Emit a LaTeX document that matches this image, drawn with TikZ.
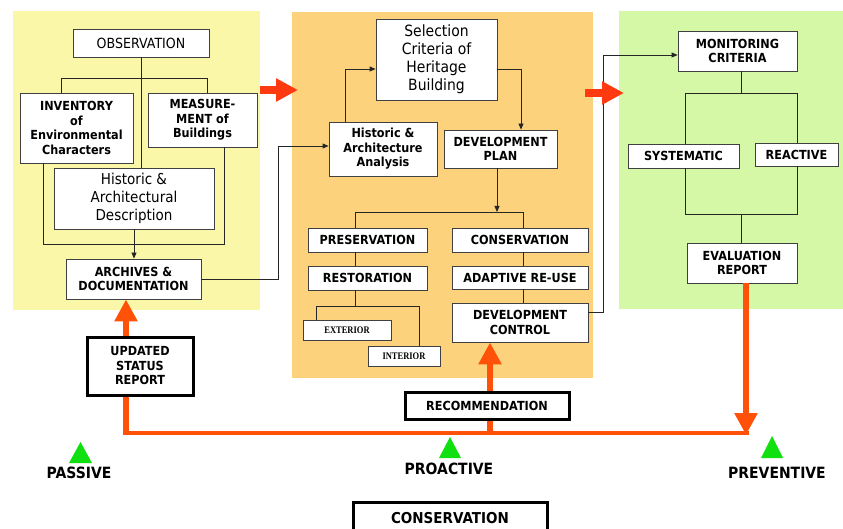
\documentclass[tikz,border=0pt]{standalone}
\usepackage{fontspec}
\setmainfont{DejaVu Sans}[FakeStretch=0.9]
\newfontfamily\serifsmall{Liberation Serif}[FakeStretch=0.85]
\usetikzlibrary{arrows.meta}
\definecolor{ycol}{HTML}{FAF8A8}
\definecolor{ocol}{HTML}{FCD27D}
\definecolor{gcol}{HTML}{D4F8A5}
\definecolor{boxline}{HTML}{404040}
\definecolor{redA}{HTML}{FF3A10}
\definecolor{redB}{HTML}{FF5208}
\definecolor{trig}{HTML}{10E010}
\newcommand\regf[2]{\fontsize{#1}{#2}\selectfont\mdseries}
\newcommand\bldf[2]{\fontsize{#1}{#2}\selectfont\bfseries}
\begin{document}
\begin{tikzpicture}[x=1pt,y=-1pt,
  panel/.style={draw=none,inner sep=0pt},
  box/.style={draw=boxline,fill=white,line width=0.8pt,inner sep=0pt,align=center,font=\bldf{12.5}{14.5}},
  heavybox/.style={draw=black,fill=white,line width=3pt,inner sep=0pt,align=center,font=\bldf{12.5}{14.5}},
  smallbox/.style={draw=boxline,fill=white,line width=0.8pt,inner sep=0pt,align=center,font={\serifsmall\fontsize{10}{12}\selectfont\bfseries}},
  conn/.style={draw=black!85,line width=0.8pt},
  arr/.style={conn,-{Triangle[length=6pt,width=5pt]}},
  bigred/.style={draw=redA,line width=8pt,-{Triangle[length=22pt,width=22pt]}},
  redshaft/.style={draw=redB,line width=6.5pt},
  redarr/.style={redshaft,-{Triangle[length=22pt,width=22pt]}},
  redhor/.style={draw=redB,line width=4pt},
  lab/.style={inner sep=0pt,font=\bldf{15.5}{18}},
  tri/.style={fill=trig}
]
\useasboundingbox (0,0) rectangle (843,529);
\fill[white] (0,0) rectangle (843,529);

% panels
\node[panel,fill=ycol,minimum width=247pt,minimum height=299pt] (ypanel) at (136.5,160.5) {};
\node[panel,fill=ocol,minimum width=301pt,minimum height=366pt] (opanel) at (442.5,195) {};
\node[panel,fill=gcol,minimum width=224pt,minimum height=298pt] (gpanel) at (731,160) {};

% yellow panel boxes
\node[box,font=\regf{14}{16},minimum width=136pt,minimum height=28pt] (obs) at (141,43) {OBSERVATION};
\node[box,minimum width=113pt,minimum height=70pt] (inv) at (76.5,128) {INVENTORY\\of\\Environmental\\Characters};
\node[box,minimum width=109pt,minimum height=54pt] (meas) at (202.5,120) {MEASURE-\\MENT of\\Buildings};
\node[box,font=\regf{15}{17.7},minimum width=160pt,minimum height=61pt] (hdesc) at (134,198.5) {Historic \&\\Architectural\\Description};
\node[box,minimum width=135pt,minimum height=40pt] (arch) at (133.5,279) {ARCHIVES \&\\DOCUMENTATION};

% orange panel boxes
\node[box,font=\regf{15.5}{18},minimum width=121pt,minimum height=81pt] (sel) at (436.5,59.5) {Selection\\Criteria of\\Heritage\\Building};
\node[box,minimum width=108pt,minimum height=54pt] (haa) at (383,149) {Historic \&\\Architecture\\Analysis};
\node[box,minimum width=113pt,minimum height=38pt] (dplan) at (500.5,149) {DEVELOPMENT\\PLAN};
\node[box,minimum width=119pt,minimum height=24pt] (pres) at (367.5,240) {PRESERVATION};
\node[box,minimum width=119pt,minimum height=24pt] (rest) at (367.5,278) {RESTORATION};
\node[smallbox,minimum width=88pt,minimum height=20pt] (ext) at (347,330) {EXTERIOR};
\node[smallbox,minimum width=72pt,minimum height=20pt] (int) at (404,356) {INTERIOR};
\node[box,minimum width=136pt,minimum height=24pt] (cons) at (520,240) {CONSERVATION};
\node[box,minimum width=136pt,minimum height=23pt] (adapt) at (520,277.5) {ADAPTIVE RE-USE};
\node[box,minimum width=136pt,minimum height=39pt] (dctrl) at (520,322.5) {DEVELOPMENT\\CONTROL};

% green panel boxes
\node[box,minimum width=119pt,minimum height=40pt] (mon) at (737.5,51) {MONITORING\\CRITERIA};
\node[box,minimum width=111pt,minimum height=24pt] (sys) at (683.5,156) {SYSTEMATIC};
\node[box,minimum width=83pt,minimum height=23pt] (react) at (796.5,154.5) {REACTIVE};
\node[box,minimum width=110pt,minimum height=40pt] (eval) at (742,263) {EVALUATION\\REPORT};

% bottom boxes
\node[heavybox,minimum width=106pt,minimum height=58pt] (upd) at (140,366) {UPDATED\\STATUS\\REPORT};
\node[heavybox,minimum width=164pt,minimum height=27pt] (rec) at (487,405.5) {RECOMMENDATION};
\node[heavybox,font=\bldf{15}{18},minimum width=194pt,minimum height=31pt] (consB) at (450,518) {CONSERVATION};

% labels
\node[lab] (pas) at (79,473) {PASSIVE};
\node[lab] (pro) at (449,469) {PROACTIVE};
\node[lab] (prev) at (777,473) {PREVENTIVE};

% triangles
\fill[tri] (69,463) -- (92,463) -- (80.5,442) -- cycle;
\fill[tri] (439,458) -- (461,458) -- (450,437) -- cycle;
\fill[tri] (761,458) -- (783,458) -- (772,436) -- cycle;

% coordinates
\coordinate (b1) at (61,78);
\coordinate (b2) at (207,78);
\coordinate (c1) at (43,244);
\coordinate (c2) at (224,244);
\coordinate (d1) at (278,146);
\coordinate (e1) at (345,69);
\coordinate (f1) at (521,69);
\coordinate (g0) at (497,212);
\coordinate (g1) at (355,212);
\coordinate (g2) at (523,212);
\coordinate (h0) at (355,306);
\coordinate (h1) at (316,306);
\coordinate (h2) at (419,306);
\coordinate (k1) at (603,312);
\coordinate (k2) at (603,55);
\coordinate (m0) at (741,93);
\coordinate (m1) at (685,93);
\coordinate (m2) at (797,93);
\coordinate (n0) at (741,214);
\coordinate (n1) at (685,214);
\coordinate (n2) at (797,214);

% yellow connectors
\draw[conn] (obs.south) -- (obs.south |- hdesc.north);
\draw[conn] (b1 |- inv.north) -- (b1) -- (b2) -- (b2 |- meas.north);
\draw[conn] (c1 |- inv.south) -- (c1) -- (c2) -- (c2 |- meas.south);
\draw[arr] (hdesc.south) -- (hdesc.south |- arch.north);
\draw[arr] (arch.east) -| (d1) -- (d1 -| haa.west);

% orange connectors
\draw[arr] (e1 |- haa.north) -- (e1) -- (e1 -| sel.west);
\draw[arr] (f1 -| sel.east) -- (f1) -- (f1 |- dplan.north);
\draw[arr] (g0 |- dplan.south) -- (g0);
\draw[conn] (g1 |- pres.north) -- (g1) -- (g2) -- (g2 |- cons.north);
\draw[conn] (g1 |- pres.south) -- (g1 |- rest.north);
\draw[conn] (h0 |- rest.south) -- (h0);
\draw[conn] (h1 |- ext.north) -- (h1) -- (h2) -- (h2 |- int.north);
\draw[conn] (g2 |- cons.south) -- (g2 |- adapt.north);
\draw[conn] (g2 |- adapt.south) -- (g2 |- dctrl.north);
\draw[arr] (k1 -| dctrl.east) -- (k1) -- (k2) -- (k2 -| mon.west);

% green connectors
\draw[conn] (m0 |- mon.south) -- (m0);
\draw[conn] (m1 |- sys.north) -- (m1) -- (m2) -- (m2 |- react.north);
\draw[conn] (m1 |- sys.south) -- (n1) -- (n2) -- (n2 |- react.south);
\draw[conn] (n0) -- (n0 |- eval.north);

% big red arrows between panels
\coordinate (ra1) at (260,90);
\coordinate (ra2) at (298,90);
\coordinate (rb1) at (585,93);
\coordinate (rb2) at (624,93);
\draw[bigred] (ra1) -- (ra2);
\draw[bigred] (rb1) -- (rb2);

% bottom red flow
\coordinate (p1) at (126,433);
\coordinate (p2) at (490,433);
\coordinate (p3) at (746,433);
\draw[redhor] ([xshift=-3.25pt]p1) -- ([xshift=3.25pt]p3);
\draw[redshaft] (p1 |- upd.south) -- ([yshift=-2pt]p1);
\draw[redarr] (p1 |- upd.north) -- (p1 |- arch.south);
\draw[redshaft] (p2) -- (p2 |- rec.south);
\draw[redarr] (p2 |- rec.north) -- (p2 |- dctrl.south);
\draw[redarr] (p3 |- eval.south) -- ([yshift=-2pt]p3);
\end{tikzpicture}
\end{document}
